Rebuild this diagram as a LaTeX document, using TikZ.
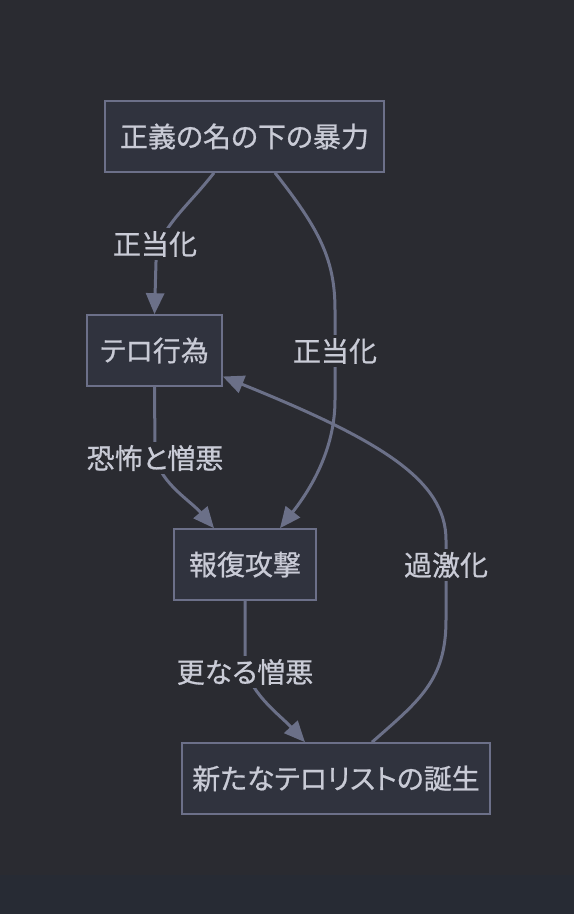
\documentclass[tikz,border=0pt]{standalone}
\usepackage{fontspec}
\newfontfamily\jpfont[FakeBold=0.7, RawFeature=+palt]{Noto Sans CJK JP}
\usepackage{tikz}
\usetikzlibrary{arrows.meta}
\definecolor{fons}{HTML}{2A2B31}
\definecolor{peu}{HTML}{272B34}
\definecolor{caixa}{HTML}{30333E}
\definecolor{vora}{HTML}{6C7089}
\definecolor{lletra}{HTML}{C9CBD6}
\definecolor{fletxa}{HTML}{6B7088}

\begin{document}
\begin{tikzpicture}[
    x=1pt, y=-1pt,
    >={Triangle[length=21pt, width=18pt]},
    caixa/.style={
        draw=vora, fill=caixa, line width=1.6pt,
        text=lletra, minimum height=71pt,
        font=\jpfont\fontsize{28}{32}\selectfont
    },
    etiqueta/.style={
        fill=fons, text=lletra, inner sep=3pt,
        font=\jpfont\fontsize{28}{32}\selectfont
    },
    fletxa/.style={->, line width=3pt, draw=fletxa}
]

% Fons
\fill[fons] (0,0) rectangle (574,914);
\fill[peu] (0,875) rectangle (574,914);
\useasboundingbox (0,0) rectangle (574,914);

% Caixes
\node[caixa, minimum width=279pt] (violencia) at (244.5,136.5) {正義の名の下の暴力};
\node[caixa, minimum width=135pt] (terror) at (154.5,350.5) {テロ行為};
\node[caixa, minimum width=142pt] (represalia) at (245,564.5) {報復攻撃};
\node[caixa, minimum width=308pt] (nous) at (336,778.5) {新たなテロリストの誕生};

% Fletxes
\draw[fletxa] ([xshift=-30.5pt]violencia.south)
  .. controls (185,210) and (158,228) ..
  (156,262) -- (terror.north);

\draw[fletxa] ([xshift=30.5pt]violencia.south)
  .. controls (320,230) and (335,260) ..
  (335,310) -- (335,400)
  .. controls (335,450) and (310,490) ..
  ([xshift=35pt]represalia.north);

\draw[fletxa] (terror.south) -- (155,450)
  .. controls (155,480) and (190,500) ..
  ([xshift=-31pt]represalia.north);

\draw[fletxa] (represalia.south) -- (245,660)
  .. controls (245,690) and (280,715) ..
  ([xshift=-31pt]nous.north);

\draw[fletxa] ([xshift=36pt]nous.north)
  .. controls (420,700) and (446,680) ..
  (446,620) -- (446,540)
  .. controls (446,480) and (380,440) ..
  ([yshift=-26pt]terror.east);

% Etiquetes
\node[etiqueta] (just1) at (155,244) {正当化};
\node[etiqueta] (just2) at (335,351) {正当化};
\node[etiqueta] (por) at (155,458) {恐怖と憎悪};
\node[etiqueta] (odi) at (245,672) {更なる憎悪};
\node[etiqueta] (radical) at (446,565) {過激化};

\end{tikzpicture}
\end{document}
